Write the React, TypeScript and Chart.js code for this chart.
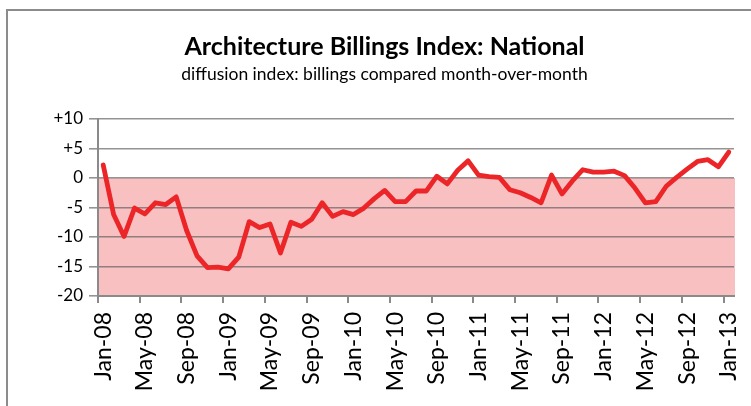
import React, { useEffect, useRef } from "react";
import { Chart, registerables } from "chart.js";

Chart.register(...registerables);

const titleText = "Architecture Billings Index: National";
const subtitleText = "diffusion index: billings compared month-over-month";

const months = [
  "Jan-08","Feb-08","Mar-08","Apr-08","May-08","Jun-08","Jul-08","Aug-08","Sep-08","Oct-08","Nov-08","Dec-08",
  "Jan-09","Feb-09","Mar-09","Apr-09","May-09","Jun-09","Jul-09","Aug-09","Sep-09","Oct-09","Nov-09","Dec-09",
  "Jan-10","Feb-10","Mar-10","Apr-10","May-10","Jun-10","Jul-10","Aug-10","Sep-10","Oct-10","Nov-10","Dec-10",
  "Jan-11","Feb-11","Mar-11","Apr-11","May-11","Jun-11","Jul-11","Aug-11","Sep-11","Oct-11","Nov-11","Dec-11",
  "Jan-12","Feb-12","Mar-12","Apr-12","May-12","Jun-12","Jul-12","Aug-12","Sep-12","Oct-12","Nov-12","Dec-12",
  "Jan-13",
];

const abiValues = [
  2.2, -6.2, -9.9, -5.1, -6.1, -4.2, -4.5, -3.2, -8.9, -13.2, -15.2, -15.1,
  -15.4, -13.4, -7.4, -8.4, -7.8, -12.7, -7.5, -8.2, -7.0, -4.2, -6.5, -5.7,
  -6.2, -5.1, -3.5, -2.1, -4.0, -4.0, -2.2, -2.2, 0.3, -1.0, 1.3, 2.9,
  0.5, 0.25, 0.1, -2.0, -2.5, -3.3, -4.2, 0.5, -2.7, -0.5, 1.4, 1.0,
  1.0, 1.15, 0.4, -1.7, -4.2, -4.0, -1.4, 0.1, 1.5, 2.8, 3.1, 1.9,
  4.4,
];

const yMin = -20;
const yMax = 10;
const yStep = 5;
const labelEvery = 4;
const shadeFrom = 0;

const bandPlugin = {
  id: "negativeBand",
  beforeDraw(chart: any) {
    const { ctx, chartArea, scales } = chart;
    const y = scales.y;
    const top = y.getPixelForValue(shadeFrom);
    const bottom = y.getPixelForValue(yMin);
    ctx.save();
    ctx.fillStyle = "#F8C0C0";
    ctx.fillRect(chartArea.left, top, chartArea.right - chartArea.left + 1, bottom - top);
    ctx.restore();
  },
};

export default function App() {
  const ref = useRef<HTMLCanvasElement | null>(null);

  useEffect(() => {
    if (!ref.current) return;
    const chart = new Chart(ref.current, {
      type: "line",
      data: {
        labels: months,
        datasets: [
          {
            label: "ABI",
            data: abiValues,
            borderColor: "#EC2528",
            borderWidth: 4.8,
            pointRadius: 0,
            tension: 0,
            borderJoinStyle: "round",
            borderCapStyle: "round",
            fill: false,
          },
        ],
      },
      options: {
        animation: false,
        responsive: false,
        devicePixelRatio: 1,
        color: "#000",
        layout: { padding: { top: 0, left: 18, right: 0, bottom: 0 } },
        plugins: {
          legend: { display: false },
          tooltip: { enabled: false },
          title: {
            display: true,
            text: titleText,
            color: "#000",
            font: { family: "Lato", size: 25, weight: "bold", lineHeight: 1.2 },
            padding: { top: 32, bottom: 0 },
          },
          subtitle: {
            display: true,
            text: subtitleText,
            color: "#000",
            font: { family: "Lato", size: 17.5, weight: "normal", lineHeight: 1.2 },
            padding: { top: 1.5, bottom: 34.5 },
          },
        },
        scales: {
          x: {
            type: "category",
            offset: true,
            afterFit(scale: any) {
              scale.height = 110;
              scale.paddingLeft = 0;
              scale.paddingRight = 17;
            },
            border: { display: true, color: "#8a8a8a", width: 2 },
            grid: {
              offset: true,
              drawOnChartArea: false,
              drawTicks: true,
              tickLength: 7,
              lineWidth: 2,
              color: (c: any) => (c.index % labelEvery === 0 ? "#8a8a8a" : "rgba(0,0,0,0)"),
            },
            ticks: {
              autoSkip: false,
              maxRotation: 90,
              minRotation: 90,
              padding: 9,
              color: "#000",
              font: { family: "Lato", size: 23 },
              callback: (_v: any, i: number) => (i % labelEvery === 0 ? months[i] : ""),
            },
          },
          y: {
            min: yMin,
            max: yMax,
            afterFit(scale: any) {
              scale.width = 80;
            },
            border: { display: true, color: "#8a8a8a", width: 2 },
            grid: {
              color: "rgba(90,90,90,0.65)",
              lineWidth: 1.6,
              tickLength: 9,
              drawTicks: true,
            },
            ticks: {
              stepSize: yStep,
              padding: 6,
              color: "#000",
              font: { family: "Lato", size: 17 },
              callback: (v: any) => (Number(v) > 0 ? "+" + v : String(v)),
            },
          },
        },
      },
      plugins: [bandPlugin],
    });
    return () => chart.destroy();
  }, []);

  return (
    <div
      style={{
        position: "fixed",
        left: 0,
        top: 0,
        width: 751,
        height: 406,
        background: "#fff",
        overflow: "hidden",
      }}
    >
      <canvas
        ref={ref}
        width={751}
        height={406}
        style={{ position: "absolute", left: 0, top: 0, display: "block" }}
      />
      <div
        style={{
          position: "absolute",
          left: 6,
          top: 9,
          width: 751,
          height: 406,
          borderTop: "2px solid #8c8c8c",
          borderLeft: "2px solid #8c8c8c",
          boxSizing: "border-box",
          pointerEvents: "none",
        }}
      />
    </div>
  );
}
